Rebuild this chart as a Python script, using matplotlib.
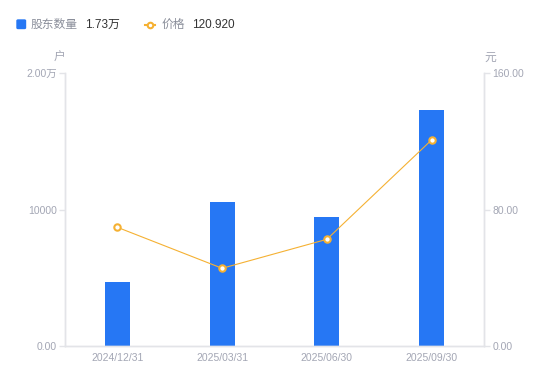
import matplotlib
matplotlib.use("Agg")
import matplotlib.pyplot as plt
from matplotlib.patches import FancyBboxPatch
from matplotlib.lines import Line2D

plt.rcParams['font.family'] = ['Liberation Sans', 'Noto Sans CJK SC', 'DejaVu Sans']

categories = ["2024/12/31", "2025/03/31", "2025/06/30", "2025/09/30"]
holders = [4670, 10580, 9480, 17300]
prices = [69.64, 45.59, 62.6, 120.92]
left_ticks = [0, 10000, 20000]
left_labels = ["0.00", "10000", "2.00万"]
right_ticks = [0, 80, 160]
right_labels = ["0.00", "80.00", "160.00"]

W, H = 550, 381
fig = plt.figure(figsize=(W / 100, H / 100), dpi=100)
x0, x1, ytop, ybot = 65, 484, 73.3, 346
ax = fig.add_axes([x0 / W, (H - ybot) / H, (x1 - x0) / W, (ybot - ytop) / H])

bar_color = "#2677f4"
line_color = "#f5b133"
axis_color = "#e3e4e8"
tick_color = "#a3a6b4"

xs = list(range(len(categories)))
ax.bar(xs, holders, width=0.24, color=bar_color, zorder=2)
ax.set_xlim(-0.5, len(categories) - 0.5)
ax.set_ylim(0, 20000)
ax.set_yticks(left_ticks)
ax.set_yticklabels(left_labels)
ax.set_xticks(xs)
ax.set_xticklabels(categories)

ax2 = ax.twinx()
ax2.plot(xs, prices, color=line_color, lw=0.8, marker='o', ms=4.6,
         mfc='white', mec=line_color, mew=1.5, zorder=3)
ax2.set_ylim(0, 160)
ax2.set_yticks(right_ticks)
ax2.set_yticklabels(right_labels)

for a in (ax, ax2):
    for s in a.spines.values():
        s.set_color(axis_color)
        s.set_linewidth(1)
    a.spines['top'].set_visible(False)
    a.tick_params(axis='y', colors=axis_color, labelcolor=tick_color,
                  labelsize=7.5, length=4, width=1, pad=2)
ax.tick_params(axis='x', length=0, labelcolor=tick_color, labelsize=7.5, pad=5)

fig.text(59 / W, 1 - 57.5 / H, "户", color=tick_color, fontsize=8.5,
         ha='center', va='center')
fig.text(490 / W, 1 - 57.5 / H, "元", color=tick_color, fontsize=8.5,
         ha='center', va='center')

# legend
sq = FancyBboxPatch((17 / W, 1 - 28.5 / H), 8.5 / W, 8.5 / H,
                    boxstyle="round,pad=0,rounding_size=0.002",
                    transform=fig.transFigure, color=bar_color)
fig.patches.append(sq)
fig.text(31 / W, 1 - 24.5 / H, "股东数量", color="#8a8e9a", fontsize=8.5,
         va='center', ha='left')
fig.text(85 / W, 1 - 24.5 / H, "1.73万", color="#333333", fontsize=8.5,
         va='center', ha='left')
fig.lines.append(Line2D([145 / W, 155 / W], [1 - 24.5 / H, 1 - 24.5 / H],
                        transform=fig.transFigure, color=line_color, lw=1.5))
fig.lines.append(Line2D([150 / W], [1 - 24.5 / H], transform=fig.transFigure,
                        marker='o', ms=4.0, mfc='white', mec=line_color, mew=1.5))
fig.text(162 / W, 1 - 24.5 / H, "价格", color="#8a8e9a", fontsize=8.5,
         va='center', ha='left')
fig.text(192 / W, 1 - 24.5 / H, "120.920", color="#333333", fontsize=8.5,
         va='center', ha='left')

fig.savefig("out.png", dpi=100)
